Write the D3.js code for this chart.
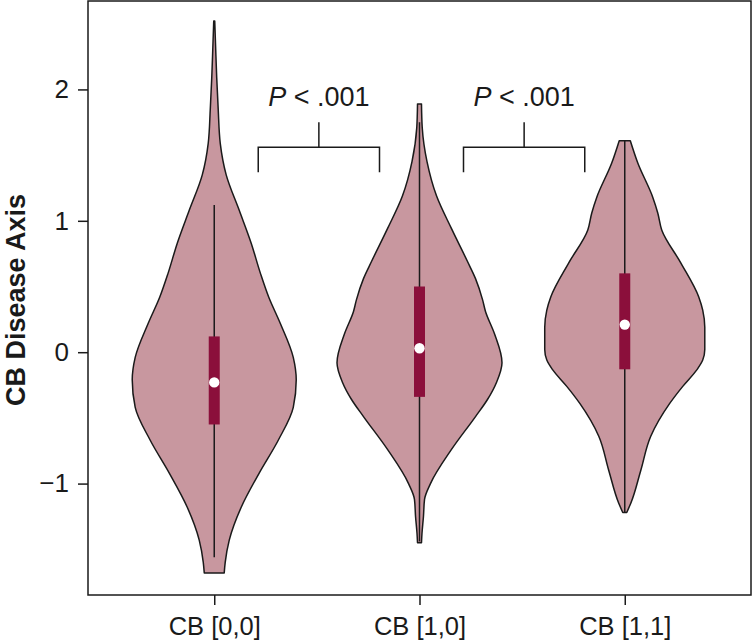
<!DOCTYPE html>
<html>
<head>
<meta charset="utf-8">
<script src="https://cdn.jsdelivr.net/npm/d3@7"></script>
<style>
  body { margin: 0; background: #fff; }
  svg { display: block; }
  text { font-family: "Liberation Sans", Arial, Helvetica, sans-serif; fill: #1a1a1a; }
</style>
</head>
<body>
<svg id="chart" width="752" height="644"></svg>
<script>
// ---- Data ----
const categories = ["CB [0,0]", "CB [1,0]", "CB [1,1]"];
const yTicks = [-1, 0, 1, 2];
const yTickLabels = ["\u22121", "0", "1", "2"];

// Violin outlines: value positions and relative half-widths (density)
const violin00Y = [2.52, 2.3, 2.09, 1.85, 1.59, 1.35, 1.08, 0.83, 0.60, 0.42, 0.22, -0.04, -0.21, -0.42, -0.67, -0.92, -1.18, -1.43, -1.60, -1.68];
const violin00D = [0.006, 0.018, 0.030, 0.048, 0.073, 0.145, 0.303, 0.448, 0.560, 0.660, 0.800, 0.958, 0.994, 0.958, 0.776, 0.545, 0.327, 0.182, 0.133, 0.121];
const violin10Y = [1.89, 1.71, 1.45, 1.19, 0.94, 0.69, 0.56, 0.40, 0.31, 0.14, -0.08, -0.23, -0.36, -0.49, -0.74, -1.0, -1.12, -1.25, -1.38, -1.45];
const violin10D = [0.024, 0.033, 0.091, 0.206, 0.388, 0.582, 0.679, 0.764, 0.800, 0.909, 1.0, 0.933, 0.824, 0.679, 0.388, 0.133, 0.061, 0.048, 0.030, 0.024];
const violin11Y = [1.61, 1.44, 1.18, 1.06, 0.93, 0.68, 0.42, 0.32, 0.19, 0.02, -0.06, -0.135, -0.26, -0.39, -0.64, -0.90, -1.15, -1.22];
const violin11D = [0.067, 0.158, 0.339, 0.400, 0.448, 0.679, 0.897, 0.945, 0.970, 0.970, 0.945, 0.873, 0.703, 0.545, 0.315, 0.194, 0.073, 0.024];

// Box statistics
const medians = [-0.23, 0.03, 0.21];
const q1 = [-0.55, -0.34, -0.13];
const q3 = [0.12, 0.50, 0.60];
const whiskerLow = [-1.56, -1.44, -1.22];
const whiskerHigh = [1.12, 1.75, 1.61];

// Significance annotations
const comparisons = [[0, 1], [1, 2]];
const pLabels = ["< .001", "< .001"];
const bracketY = 1.56, bracketLegY = 1.37, bracketTickY = 1.75;

// ---- Layout ----
const margin = { left: 88, top: 1, right: 751, bottom: 595 };
const svg = d3.select("#chart");

const x = d3.scalePoint().domain(categories).range([margin.left, margin.right]).padding(0.615);
const y = d3.scaleLinear().domain([-1.848, 2.673]).range([margin.bottom, margin.top]);
const w = d3.scaleLinear().domain([0, 1]).range([0, 82.5]);

const violinFill = "#c8979f";
const boxFill = "#8b0f3b";
const ink = "#1a1a1a";

const violins = [
  { cat: categories[0], ys: violin00Y, ds: violin00D },
  { cat: categories[1], ys: violin10Y, ds: violin10D },
  { cat: categories[2], ys: violin11Y, ds: violin11D }
];

// Violins
violins.forEach((v, i) => {
  const cx = x(v.cat);
  const pts = v.ys.map((val, k) => ({ v: val, d: v.ds[k] }));
  const area = d3.area()
    .y(d => y(d.v))
    .x0(d => cx - w(d.d))
    .x1(d => cx + w(d.d))
    .curve(d3.curveMonotoneY);
  svg.append("path")
    .attr("d", area(pts))
    .attr("fill", violinFill)
    .attr("stroke", ink)
    .attr("stroke-width", 1.5)
    .attr("stroke-linejoin", "round");

  // whisker line
  svg.append("line")
    .attr("x1", cx).attr("x2", cx)
    .attr("y1", y(whiskerHigh[i])).attr("y2", y(whiskerLow[i]))
    .attr("stroke", ink).attr("stroke-width", 1.5);

  // IQR box
  svg.append("rect")
    .attr("x", cx - 5.5).attr("width", 11)
    .attr("y", y(q3[i])).attr("height", y(q1[i]) - y(q3[i]))
    .attr("fill", boxFill);

  // median dot
  svg.append("circle")
    .attr("cx", cx).attr("cy", y(medians[i])).attr("r", 5.2)
    .attr("fill", "#fff");
});

// Brackets
comparisons.forEach((c, i) => {
  const xa = x(categories[c[0]]) + 44;
  const xb = x(categories[c[1]]) - 40;
  const xm = (xa + xb) / 2;
  svg.append("path")
    .attr("d", `M${xa},${y(bracketLegY)}V${y(bracketY)}H${xb}V${y(bracketLegY)}M${xm},${y(bracketY)}V${y(bracketTickY)}`)
    .attr("fill", "none").attr("stroke", ink).attr("stroke-width", 1.5);
  const t = svg.append("text")
    .attr("x", xm).attr("y", 106)
    .attr("text-anchor", "middle")
    .attr("font-size", 27);
  t.append("tspan").attr("font-style", "italic").text("P");
  t.append("tspan").text(" " + pLabels[i]);
});

// Frame
svg.append("rect")
  .attr("x", margin.left).attr("y", margin.top)
  .attr("width", margin.right - margin.left).attr("height", margin.bottom - margin.top)
  .attr("fill", "none").attr("stroke", ink).attr("stroke-width", 1.5);

// Y axis
const yAxis = d3.axisLeft(y).tickValues(yTicks).tickSize(10).tickPadding(9)
  .tickFormat((d, i) => yTickLabels[i]);
const gy = svg.append("g").attr("transform", `translate(${margin.left},0)`).call(yAxis);
gy.select(".domain").remove();
gy.selectAll(".tick line").attr("stroke", ink).attr("stroke-width", 1.5);
gy.selectAll(".tick text").attr("font-size", 26).attr("fill", ink)
  .style("font-family", '"Liberation Sans", Arial, sans-serif');

// X axis
const xAxis = d3.axisBottom(x).tickSize(10).tickPadding(12);
const gx = svg.append("g").attr("transform", `translate(0,${margin.bottom})`).call(xAxis);
gx.select(".domain").remove();
gx.selectAll(".tick line").attr("stroke", ink).attr("stroke-width", 1.5);
gx.selectAll(".tick text").attr("font-size", 25.5).attr("fill", ink)
  .style("font-family", '"Liberation Sans", Arial, sans-serif');

// Y title
svg.append("text")
  .attr("transform", `translate(25,${(margin.top + margin.bottom) / 2 + 2}) rotate(-90)`)
  .attr("text-anchor", "middle")
  .attr("font-size", 27)
  .attr("font-weight", "bold")
  .text("CB Disease Axis");
</script>
</body>
</html>
